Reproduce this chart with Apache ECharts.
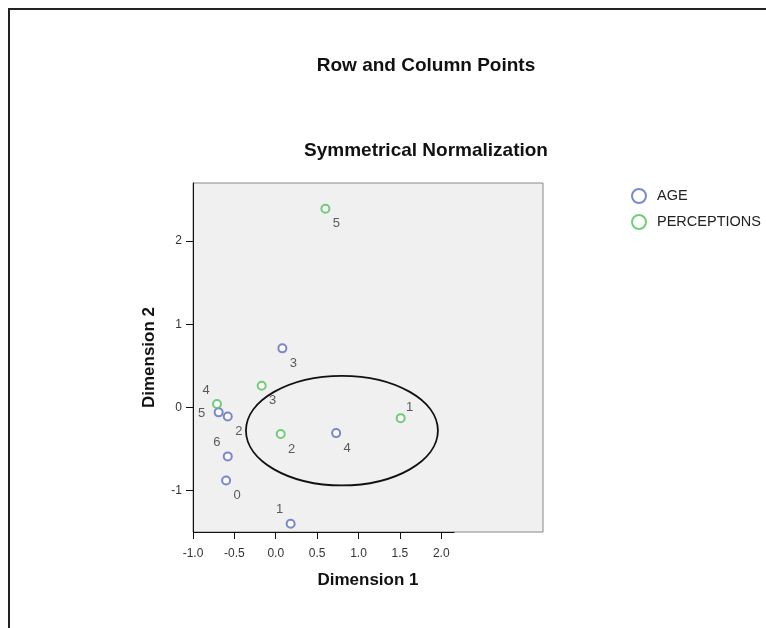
<!DOCTYPE html>
<html lang="en">
<head>
    <meta charset="UTF-8">
    <title>Row and Column Points</title>
    <style>
        html, body { margin: 0; padding: 0; background: #fff; }
        #chart { width: 766px; height: 628px; }
    </style>
</head>
<body>
<div id="chart"></div>
<script src="https://cdn.jsdelivr.net/npm/echarts@6/dist/echarts.min.js"></script>
<script type="text/javascript">
    // AGE row points
    var ageNames = ['0', '1', '2', '3', '4', '5', '6'];
    var ageDim1 = [-0.60, 0.18, -0.58, 0.08, 0.73, -0.69, -0.58];
    var ageDim2 = [-0.88, -1.40, -0.11, 0.71, -0.31, -0.06, -0.59];

    // PERCEPTIONS column points
    var percNames = ['1', '2', '3', '4', '5'];
    var percDim1 = [1.51, 0.06, -0.17, -0.71, 0.60];
    var percDim2 = [-0.13, -0.32, 0.26, 0.04, 2.39];

    // tick labels
    var xTicks = [-1.0, -0.5, 0.0, 0.5, 1.0, 1.5, 2.0];
    var yTicks = [-1, 0, 1, 2];

    // ellipse drawn around the cluster: centre x, centre y, radius x, radius y
    var ringCentre = [0.80, -0.28];
    var ringRadius = [1.16, 0.66];

    // where each point's label sits (br = below right, tl = above left ...)
    var ageLabelSpot = ['br', 'tl', 'br', 'br', 'br', 'l', 'tl'];
    var percLabelSpot = ['tr', 'br', 'br', 'tl', 'br'];
    var spotOffset = {
        br: [11, 15],
        tl: [-11, -14],
        tr: [9, -11],
        l: [-17, 1]
    };

    var FONT = '"Liberation Sans", Arial, sans-serif';
    var BLUE = '#5a6cc0';
    var GREEN = '#4fc25a';

    function buildPoints(names, xs, ys, spots) {
        var res = [];
        for (var i = 0; i < names.length; i++) {
            res.push({
                name: names[i],
                value: [xs[i], ys[i]],
                label: {offset: spotOffset[spots[i]]}
            });
        }
        return res;
    }

    var chart = echarts.init(document.getElementById('chart'));

    var pointLabel = {
        show: true,
        position: 'inside',
        formatter: '{b}',
        color: '#333',
        fontSize: 13,
        fontFamily: FONT
    };

    var option = {
        animation: false,
        backgroundColor: '#fff',
        textStyle: {fontFamily: FONT},
        graphic: [
            {
                type: 'rect',
                shape: {x: 9, y: 9, width: 800, height: 700},
                style: {fill: 'none', stroke: '#222', lineWidth: 2},
                silent: true
            },
            {
                type: 'text',
                x: 426, y: 66,
                style: {
                    text: 'Row and Column Points',
                    font: 'bold 19px ' + FONT,
                    fill: '#111',
                    textAlign: 'center',
                    textVerticalAlign: 'middle'
                }
            },
            {
                type: 'text',
                x: 426, y: 151,
                style: {
                    text: 'Symmetrical Normalization',
                    font: 'bold 19px ' + FONT,
                    fill: '#111',
                    textAlign: 'center',
                    textVerticalAlign: 'middle'
                }
            }
        ],
        legend: {
            data: ['AGE', 'PERCEPTIONS'],
            orient: 'vertical',
            left: 626,
            top: 183,
            itemWidth: 26,
            itemHeight: 14,
            itemGap: 10,
            textStyle: {fontSize: 14.5, color: '#222', fontFamily: FONT}
        },
        grid: {
            left: 193,
            top: 183,
            width: 350,
            height: 349,
            show: true,
            backgroundColor: '#f0f0f0',
            borderColor: '#888',
            borderWidth: 1
        },
        xAxis: {
            type: 'value',
            min: -1,
            max: 3.23,
            name: 'Dimension 1',
            nameLocation: 'middle',
            nameGap: 40,
            nameTextStyle: {fontSize: 17, fontWeight: 'bold', color: '#111', fontFamily: FONT},
            splitLine: {show: false},
            axisLine: {show: false, onZero: false},
            axisTick: {show: true, length: 7, customValues: xTicks, lineStyle: {color: '#111'}},
            axisLabel: {
                customValues: xTicks,
                margin: 16,
                fontSize: 12,
                color: '#333',
                formatter: function (v) { return v.toFixed(1); }
            }
        },
        yAxis: {
            type: 'value',
            min: -1.5,
            max: 2.7,
            name: 'Dimension 2',
            nameLocation: 'middle',
            nameGap: 35,
            nameTextStyle: {fontSize: 17, fontWeight: 'bold', color: '#111', fontFamily: FONT},
            splitLine: {show: false},
            axisLine: {show: true, onZero: false, lineStyle: {color: '#111'}},
            axisTick: {show: true, length: 7, customValues: yTicks, lineStyle: {color: '#111'}},
            axisLabel: {
                customValues: yTicks,
                margin: 11,
                fontSize: 12,
                color: '#333'
            }
        },
        series: [
            {
                name: 'AGE',
                type: 'scatter',
                symbol: 'emptyCircle',
                symbolSize: 8,
                itemStyle: {color: BLUE, borderColor: BLUE, borderWidth: 1.5},
                label: pointLabel,
                data: buildPoints(ageNames, ageDim1, ageDim2, ageLabelSpot),
                // x axis line only runs to about 2.16
                markLine: {
                    silent: true,
                    symbol: 'none',
                    label: {show: false},
                    lineStyle: {color: '#111', width: 1, type: 'solid'},
                    data: [[{coord: [-1, -1.5]}, {coord: [2.16, -1.5]}]]
                }
            },
            {
                name: 'PERCEPTIONS',
                type: 'scatter',
                symbol: 'emptyCircle',
                symbolSize: 8,
                itemStyle: {color: GREEN, borderColor: GREEN, borderWidth: 1.5},
                label: pointLabel,
                data: buildPoints(percNames, percDim1, percDim2, percLabelSpot)
            },
            {
                name: 'ring',
                type: 'custom',
                silent: true,
                data: [[ringCentre[0], ringCentre[1], ringRadius[0], ringRadius[1]]],
                encode: {x: 0, y: 1},
                renderItem: function (params, api) {
                    var c = api.coord([api.value(0), api.value(1)]);
                    var s = api.size([api.value(2), api.value(3)]);
                    return {
                        type: 'ellipse',
                        shape: {cx: c[0], cy: c[1], rx: s[0], ry: s[1]},
                        style: {fill: 'none', stroke: '#111', lineWidth: 1.8}
                    };
                }
            }
        ]
    };

    chart.setOption(option);
</script>
</body>
</html>
